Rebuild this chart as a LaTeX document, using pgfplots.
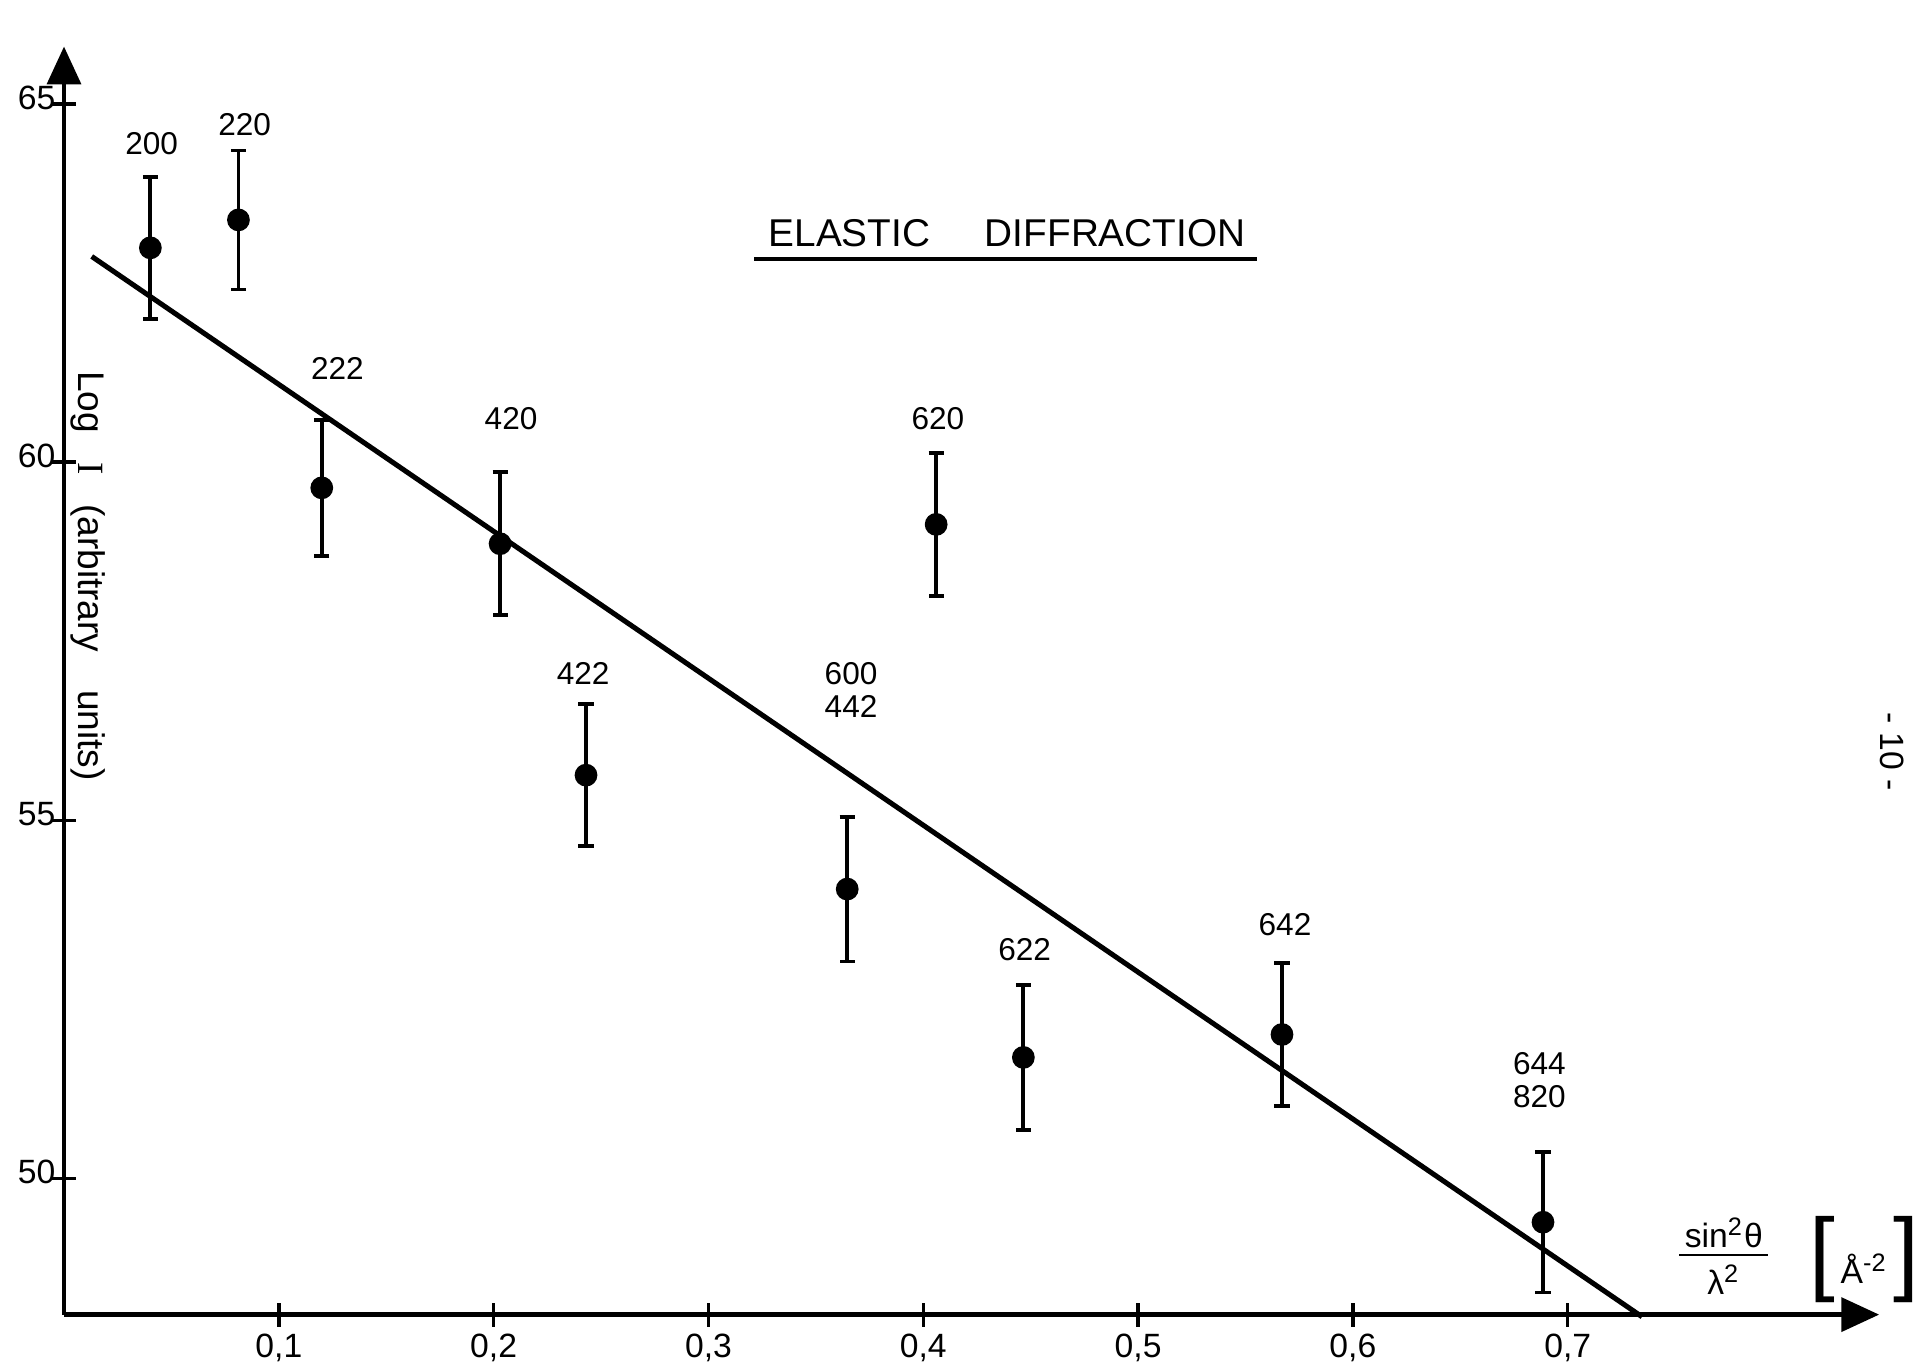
\documentclass[border=0pt]{standalone}
\usepackage{pgfplots}
\pgfplotsset{compat=1.18}
\usepackage{fontspec}
\setmainfont{Liberation Sans}
\newfontfamily\serifI{Liberation Serif}
\usetikzlibrary{arrows.meta}

\pgfplotstableread{
x y err
0.0402 62.99 0.99
0.0812 63.38 0.97
0.1200 59.64 0.95
0.2030 58.86 1.00
0.2430 55.63 0.99
0.3646 54.04 1.01
0.4060 59.13 1.00
0.4466 51.69 1.01
0.5670 52.01 1.00
0.6885 49.39 0.98
}\datatable

\begin{document}
\begin{tikzpicture}
\begin{axis}[
  scale only axis,
  width=15.15cm, height=10.584cm,
  xmin=0, xmax=0.845, ymin=48.1, ymax=65.8,
  axis lines=left,
  axis line style={line width=1.1pt, -{Triangle[width=8pt,length=9pt]}},
  xtick={0.1,0.2,0.3,0.4,0.5,0.6,0.7},
  xticklabels={{0,1},{0,2},{0,3},{0,4},{0,5},{0,6},{0,7}},
  ytick={50,55,60,65},
  yticklabels={50,55,60,65},
  tick align=center,
  major tick length=0.2cm,
  tick style={line width=0.8pt, black},
  ticklabel style={font=\fontsize{8}{9}\selectfont},
  yticklabel style={inner sep=0pt, xshift=1pt, yshift=1.5pt},
  xticklabel style={inner sep=1pt, yshift=-0.5pt},
  clip=false,
]
\path (axis cs:-0.0298,47.42) rectangle (axis cs:0.8627,66.45);

\addplot[line width=1.2pt, black] coordinates {(0.0129,62.87) (0.7346,48.07)};

\addplot[only marks, black, mark=*, mark size=2.5pt,
  error bars/.cd, y dir=both, y explicit,
  error mark=-,
  error bar style={line width=0.9pt, black},
  error mark options={line width=0.9pt, mark size=1.8pt, black, rotate=90}]
  table[x=x, y=y, y error=err] {\datatable};

\begin{scope}[every node/.style={font=\fontsize{7.5}{8}\selectfont, inner sep=0pt}]
\node at (axis cs:0.0408,64.44) {200};
\node at (axis cs:0.0841,64.71) {220};
\node at (axis cs:0.1273,61.30) {222};
\node at (axis cs:0.2081,60.60) {420};
\node at (axis cs:0.2417,57.05) {422};
\node at (axis cs:0.3664,57.05) {600};
\node at (axis cs:0.3664,56.59) {442};
\node at (axis cs:0.4068,60.61) {620};
\node at (axis cs:0.4472,53.19) {622};
\node at (axis cs:0.5684,53.55) {642};
\node at (axis cs:0.6868,51.60) {644};
\node at (axis cs:0.6868,51.14) {820};
\end{scope}

\node[font=\fontsize{9.2}{10}\selectfont, inner sep=0pt] at (axis cs:0.439,63.19) {ELASTIC\hspace{13pt}DIFFRACTION};
\draw[line width=1pt] (axis cs:0.3214,62.83) -- (axis cs:0.5553,62.83);

\node[rotate=-90, font=\fontsize{8.8}{9}\selectfont, inner sep=0pt] at (axis cs:0.0112,58.41)
  {Log\hspace{7pt}{\serifI I}\hspace{7pt}(arbitrary\hspace{9pt}units)};

\node[font=\fontsize{8}{9}\selectfont, inner sep=0pt] at (axis cs:0.7727,48.84)
  {\begin{tabular}{@{\,}c@{\,}}sin\textsuperscript{2}θ\\[-1pt]\hline\rule{0pt}{9pt}λ\textsuperscript{2}\end{tabular}};
\node[font=\fontsize{8}{9}\selectfont, inner sep=0pt] at (axis cs:0.838,48.87)
  {{\fontsize{22}{22}\selectfont[}\,Å\textsuperscript{-2}\,{\fontsize{22}{22}\selectfont]}};

\node[rotate=-90, font=\fontsize{8}{9}\selectfont, inner sep=0pt] at (axis cs:0.851,55.96) {- 10 -};
\end{axis}
\end{tikzpicture}
\end{document}
